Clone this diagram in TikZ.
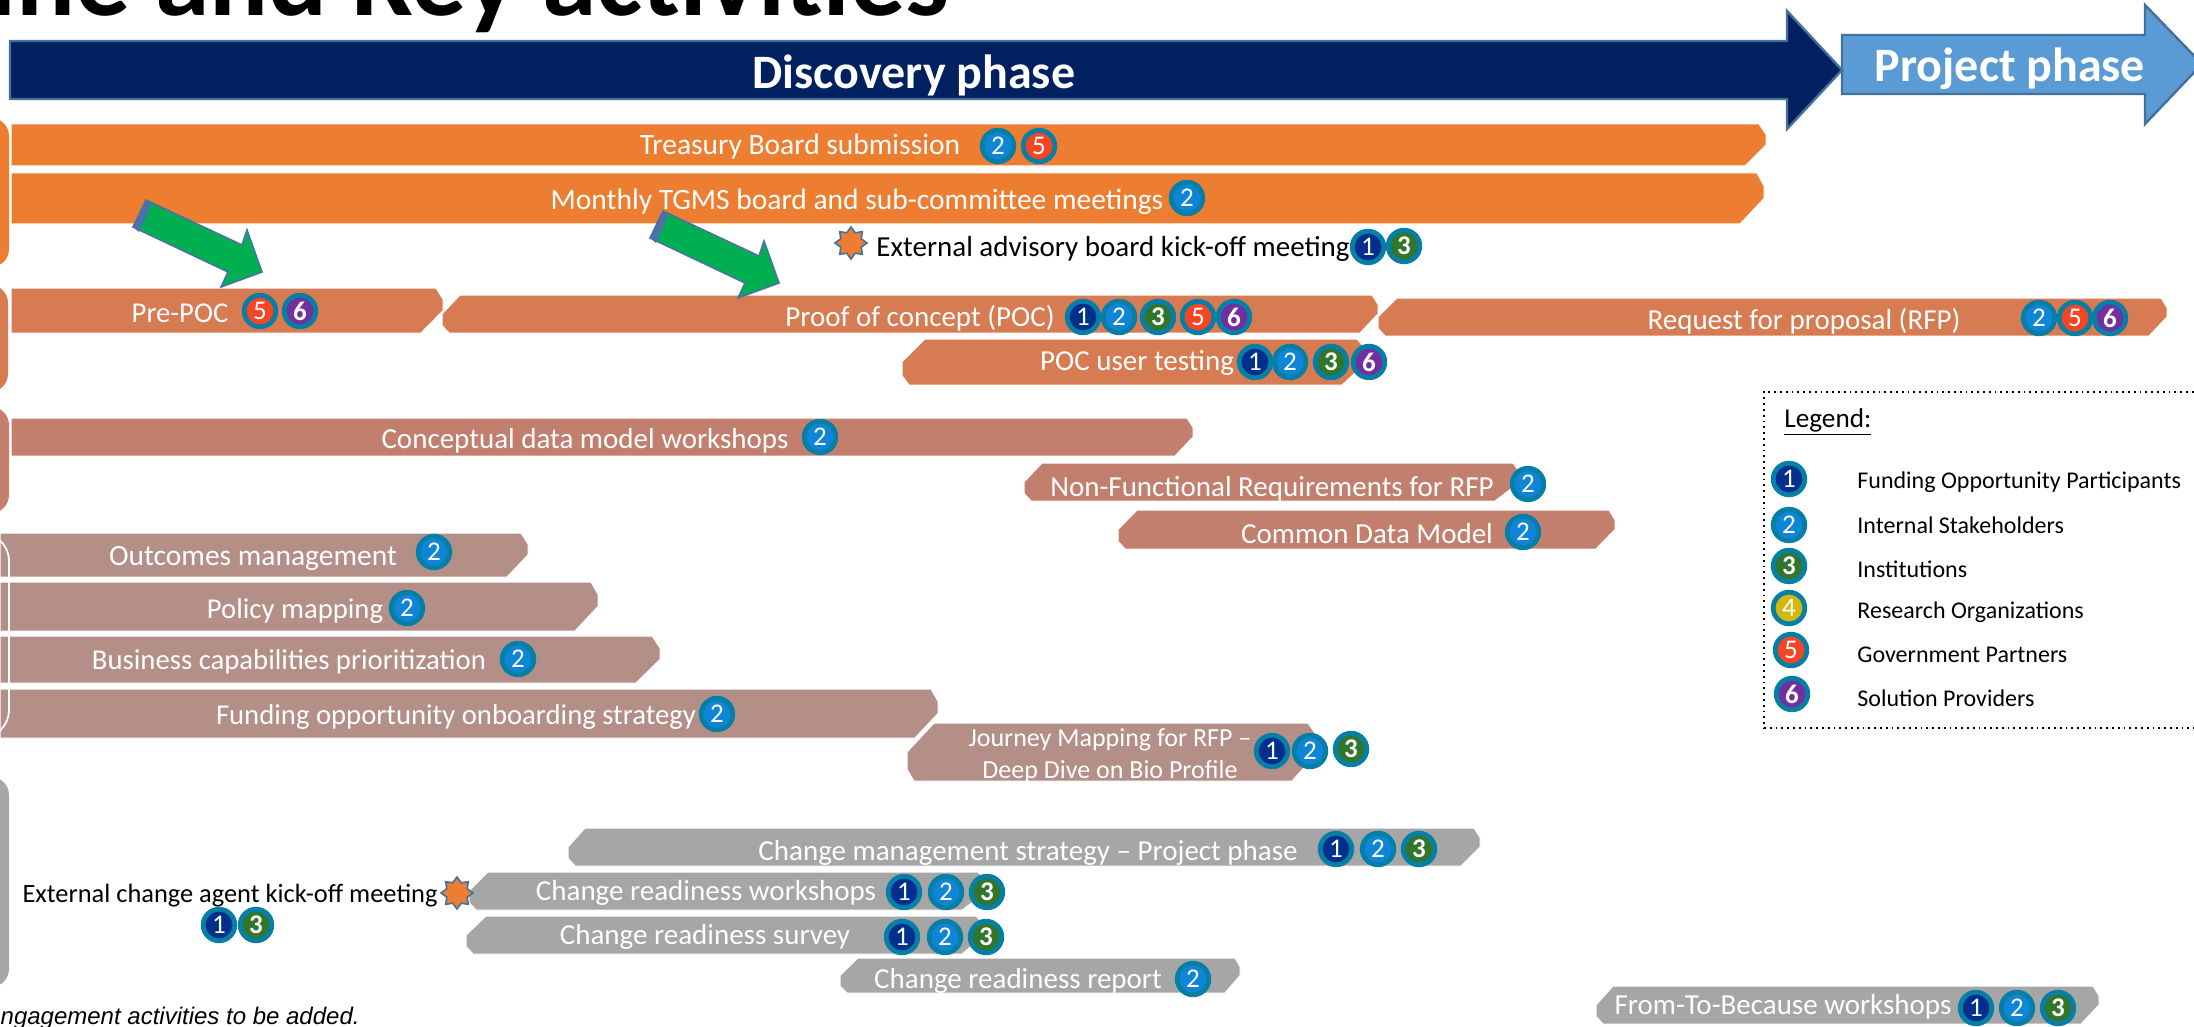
\documentclass[tikz,border=0pt]{standalone}
\usepackage{fontspec}
\setmainfont{Carlito}
\newfontfamily\arialf{Liberation Sans}
\usetikzlibrary{shapes.geometric}
\definecolor{cNavy}{HTML}{002060}
\definecolor{cBlueLine}{HTML}{41719C}
\definecolor{cSky}{HTML}{5B9BD5}
\definecolor{cOrange}{HTML}{ED7D31}
\definecolor{cTerra}{HTML}{D77B52}
\definecolor{cClay}{HTML}{C27F6D}
\definecolor{cTaupe}{HTML}{B38F87}
\definecolor{cGrey}{HTML}{A6A6A6}
\definecolor{cRing}{HTML}{057FA6}
\definecolor{cOne}{HTML}{002F8E}
\definecolor{cTwo}{HTML}{0F85D8}
\definecolor{cThree}{HTML}{32752C}
\definecolor{cFour}{HTML}{D4B80C}
\definecolor{cFive}{HTML}{F44525}
\definecolor{cSix}{HTML}{7030A0}
\definecolor{cGreen}{HTML}{00B050}
\definecolor{cArrowLine}{HTML}{4A72A8}
\tikzset{
  badge/.style={circle,draw=cRing,line width=2.4pt,minimum size=15.8pt,inner sep=0pt,text=white,font=\fontsize{13.5}{13.5}\selectfont},
  pa/.style={badge,fill=cOne},
  pb/.style={badge,fill=cTwo},
  pc/.style={badge,fill=cThree,font=\fontsize{13.5}{13.5}\selectfont\bfseries},
  pd/.style={badge,fill=cFour},
  pe/.style={badge,fill=cFive},
  pf/.style={badge,fill=cSix,font=\fontsize{13.5}{13.5}\selectfont\bfseries},
  bartxt/.style={text=white,inner sep=0pt,yshift=-0.7pt,font=\fontsize{14.5}{15}\selectfont},
  barbig/.style={bartxt,font=\fontsize{14.75}{15}\selectfont},
  barsmall/.style={bartxt,font=\fontsize{14.35}{15}\selectfont},
  legtxt/.style={text=black,inner sep=0pt,anchor=west,font=\fontsize{12}{13}\selectfont},
  barline/.style={draw=white,line width=0.5pt},
  starshape/.style={star,star points=8,star point ratio=1.45,minimum size=16pt,inner sep=0pt,fill=cOrange,draw=cBlueLine,line width=0.8pt},
  greenarrow/.style={fill=cGreen,draw=cArrowLine,line width=0.8pt,line join=miter},
  sidebox/.style={rounded corners=9pt,line width=0.7pt},
}
% square left end: L R TR BR T B colour
\newcommand\snipL[7]{\path[barline,fill=#7] (#1,#5)--(#3,#5)--(#2,{#5+(#6-#5)*0.25})--(#2,{(#5+#6)/2})--(#4,#6)--(#1,#6)--cycle;}
% snipped both ends: L TL R TR BR T B colour
\newcommand\snipB[8]{\path[barline,fill=#8] (#2,#6)--(#4,#6)--(#3,{#6+(#7-#6)*0.25})--(#3,{(#6+#7)/2})--(#5,#7)--({#1+7},#7)--(#1,{#7-(#7-#6)*0.2})--(#1,{(#6+#7)/2})--cycle;}
\newcommand\greenblock{%
  \path[greenarrow] (146,200)--(242,245)--(247,230)--(262,272)--(221,287)--(228,272)--(133,227)--cycle;
  \path[fill=cArrowLine] (146,200)--(151,205)--(139,232)--(133,227)--cycle;
}
\begin{document}
\begin{tikzpicture}[x=0.5pt,y=-0.5pt]
\useasboundingbox (0,0) rectangle (2194,1027);
\clip (0,0) rectangle (2194,1027);
\fill[white] (0,0) rectangle (2194,1027);
% title
\node[anchor=base east,inner sep=0pt,font=\fontsize{55}{55}\selectfont\bfseries] (title) at (950,16) {ine and Key activities};
% side boxes
\fill[sidebox,cOrange] (-40,118) rectangle (9,267);
\fill[sidebox,cTerra] (-40,285) rectangle (8,392);
\fill[sidebox,cClay] (-40,407) rectangle (9,513);
\fill[sidebox,cGrey] (-40,777) rectangle (9,987);
% phase arrows
\path[fill=cSky,draw=cBlueLine,line width=1.2pt] (1842,35)--(2145,35)--(2145,5)--(2202,64)--(2145,124)--(2145,94)--(1842,94)--cycle;
\path[fill=cNavy,draw=cBlueLine,line width=1.2pt] (10,41)--(1787,41)--(1787,11)--(1842,70)--(1787,129)--(1787,99)--(10,99)--cycle;
\node[text=white,inner sep=0pt,font=\fontsize{24}{26}\selectfont\bfseries] (disc) at (914,75) {Discovery phase};
\node[text=white,inner sep=0pt,font=\fontsize{24}{26}\selectfont\bfseries] (proj) at (2010,69) {Project phase};
% bars row 1
\snipL{11}{1766}{1759}{1745}{124}{166}{cOrange}
\node[barbig] (t1) at (800,145) {Treasury Board submission};
\node[pb] (t1b) at (998,146) {2};
\node[pe] (t1e) at (1039,146) {5};
\snipL{11}{1764}{1757}{1740}{173}{224}{cOrange}
\node[barbig] (t2) at (857,200) {Monthly TGMS board and sub-committee meetings};
\node[pb] (t2b) at (1187,198) {2};
\node[starshape] (st1) at (851,243) {};
\node[bartxt,text=black,font=\fontsize{14.5}{15}\selectfont] (t3) at (1113,248) {External advisory board kick-off meeting};
\node[pa] (t3a) at (1368,247) {1};
\node[pc] (t3c) at (1404,246) {3};
% POC row
\snipL{11}{443}{436}{421}{288}{333}{cTerra}
\node[barsmall] (t4) at (180,312) {Pre-POC};
\node[pe] (t4e) at (260,311) {5};
\node[pf] (t4f) at (300,311) {6};
\snipB{442}{460}{1378}{1372}{1360}{295}{333}{cTerra}
\node[bartxt] (t5) at (920,317) {Proof of concept (POC)};
\node[pa] (t5a) at (1083,317) {1};
\node[pb] (t5b) at (1119,317) {2};
\node[pc] (t5c) at (1158,317) {3};
\node[pe] (t5e) at (1198,317) {5};
\node[pf] (t5f) at (1234,317) {6};
\snipB{1378}{1397}{2167}{2161}{2149}{298}{336}{cTerra}
\node[bartxt] (t6) at (1804,320) {Request for proposal (RFP)};
\node[pb] (t6b) at (2039,318) {2};
\node[pe] (t6e) at (2075,318) {5};
\node[pf] (t6f) at (2110,318) {6};
\snipB{902}{925}{1367}{1357}{1342}{339}{385}{cTerra}
\node[bartxt] (t7) at (1137,362) {POC user testing};
\node[pa] (t7a) at (1255,362) {1};
\node[pb] (t7b) at (1290,362) {2};
\node[pc] (t7c) at (1331,362) {3};
\node[pf] (t7f) at (1369,362) {6};
% green arrows
\greenblock
\begin{scope}[shift={(517,11)}]\greenblock\end{scope}
% data row
\snipL{11}{1193}{1187}{1175}{418}{456}{cClay}
\node[bartxt] (t8) at (585,439) {Conceptual data model workshops};
\node[pb] (t8b) at (820,437) {2};
\snipB{1024}{1042}{1520}{1513}{1495}{463}{501}{cClay}
\node[bartxt] (t9) at (1272,487) {Non-Functional Requirements for RFP};
\node[pb] (t9b) at (1528,484) {2};
\snipB{1118}{1137}{1615}{1609}{1596}{510}{549}{cClay}
\node[bartxt] (t10) at (1367,532) {Common Data Model};
\node[pb] (t10b) at (1523,532) {2};
% taupe group
\snipL{0}{528}{521}{507}{533}{577}{cTaupe}
\snipL{0}{598}{591}{575}{582}{631}{cTaupe}
\snipL{0}{660}{652}{636}{636}{683}{cTaupe}
\snipL{0}{938}{931}{915}{689}{738}{cTaupe}
\draw[sidebox,white,line width=0.9pt,rounded corners=14pt] (-40,533) rectangle (9,738);
\node[barbig] (t11) at (253,557) {Outcomes management};
\node[pb] (t11b) at (434,552) {2};
\node[barsmall] (t12) at (295,610) {Policy mapping};
\node[pb] (t12b) at (407,608) {2};
\node[barsmall] (t13) at (289,660) {Business capabilities prioritization};
\node[pb] (t13b) at (518,659) {2};
\node[barsmall] (t14) at (456,716) {Funding opportunity onboarding strategy};
\node[pb] (t14b) at (717,714) {2};
\snipB{907}{934}{1318}{1308}{1292}{723}{781}{cTaupe}
\node[bartxt,align=center,font=\fontsize{13}{16}\selectfont] (t15) at (1110,754) {Journey Mapping for RFP --\\Deep Dive on Bio Profile};
\node[pa] (t15a) at (1272,751) {1};
\node[pb] (t15b) at (1310,751) {2};
\node[pc] (t15c) at (1351,749) {3};
% grey group
\snipB{568}{585}{1480}{1474}{1461}{828}{866}{cGrey}
\node[bartxt] (t16) at (1028,852) {Change management strategy -- Project phase};
\node[pa] (t16a) at (1336,849) {1};
\node[pb] (t16b) at (1378,849) {2};
\node[pc] (t16c) at (1419,849) {3};
\snipB{469}{488}{988}{978}{962}{872}{910}{cGrey}
\node[bartxt] (t17) at (706,892) {Change readiness workshops};
\node[pa] (t17a) at (904,892) {1};
\node[pb] (t17b) at (946,892) {2};
\node[pc] (t17c) at (987,892) {3};
\snipB{466}{486}{985}{976}{962}{916}{954}{cGrey}
\node[bartxt] (t18) at (705,936) {Change readiness survey};
\node[pa] (t18a) at (902,937) {1};
\node[pb] (t18b) at (945,937) {2};
\node[pc] (t18c) at (986,937) {3};
\snipB{840}{858}{1240}{1235}{1225}{958}{993}{cGrey}
\node[bartxt] (t19) at (1018,980) {Change readiness report};
\node[pb] (t19b) at (1193,979) {2};
\snipB{1596}{1613}{2099}{2093}{2081}{986}{1024}{cGrey}
\node[bartxt] (t20) at (1783,1005) {From-To-Because workshops};
\node[pa] (t20a) at (1976,1008) {1};
\node[pb] (t20b) at (2017,1008) {2};
\node[pc] (t20c) at (2058,1008) {3};
% external change agent
\node[bartxt,text=black,font=\fontsize{13.2}{15}\selectfont] (t21) at (230,894) {External change agent kick-off meeting};
\node[starshape] (st2) at (457,893) {};
\node[pa] (t21a) at (219,925) {1};
\node[pc] (t21c) at (256,925) {3};
% note
\node[anchor=east,inner sep=0pt,font=\arialf\itshape\fontsize{12}{13}\selectfont] (note) at (360,1018) {ngagement activities to be added.};
% legend
\draw[black,dotted,line width=0.9pt] (2240,392) -- (1764,392) -- (1764,728) -- (2240,728);
\node[legtxt,font=\fontsize{13.6}{14}\selectfont] (lg) at (1784,422) {\underline{Legend:}};
\node[pa] (l1) at (1789,479) {1};
\node[pb] (l2) at (1789,525) {2};
\node[pc] (l3) at (1789,566) {3};
\node[pd] (l4) at (1789,608) {4};
\node[pe] (l5) at (1791,650) {5};
\node[pf] (l6) at (1792,694) {6};
\node[legtxt] (lt1) at (1857,482) {Funding Opportunity Participants};
\node[legtxt] (lt2) at (1857,525) {Internal Stakeholders};
\node[legtxt] (lt3) at (1857,569) {Institutions};
\node[legtxt] (lt4) at (1857,612) {Research Organizations};
\node[legtxt] (lt5) at (1857,655) {Government Partners};
\node[legtxt] (lt6) at (1857,698) {Solution Providers};
\end{tikzpicture}
\end{document}
